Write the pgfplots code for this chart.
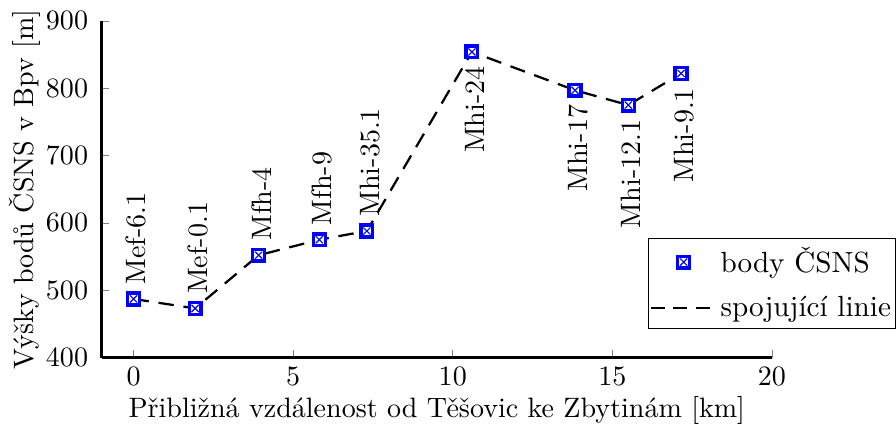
\documentclass[border=0pt]{standalone}
\usepackage{pgfplots}
\pgfplotsset{compat=1.18}
\pgfdeclareplotmark{sqx}{%
  \begin{pgfscope}%
  \pgfpathrectangle{\pgfpoint{-\pgfplotmarksize}{-\pgfplotmarksize}}{\pgfpoint{2\pgfplotmarksize}{2\pgfplotmarksize}}%
  \pgfusepathqfillstroke
  \pgfsetlinewidth{0.4pt}%
  \pgfpathmoveto{\pgfpoint{-0.6\pgfplotmarksize}{-0.6\pgfplotmarksize}}%
  \pgfpathlineto{\pgfpoint{0.6\pgfplotmarksize}{0.6\pgfplotmarksize}}%
  \pgfpathmoveto{\pgfpoint{-0.6\pgfplotmarksize}{0.6\pgfplotmarksize}}%
  \pgfpathlineto{\pgfpoint{0.6\pgfplotmarksize}{-0.6\pgfplotmarksize}}%
  \pgfusepathqstroke
  \end{pgfscope}%
}
\pgfplotsset{
  markleg/.style={legend image code/.code={\draw[##1] plot coordinates {(0.41cm,0cm)};}},
  lineleg/.style={legend image code/.code={\draw[##1] (0cm,0cm) -- (0.82cm,0cm);}},
}
\begin{document}
\begin{tikzpicture}
\begin{axis}[
  scale only axis,
  width=239pt, height=120pt,
  xmin=-1, xmax=20, ymin=400, ymax=900,
  axis lines*=left,
  axis line style={line width=0.9pt},
  tick align=inside,
  major tick length=0.09cm,
  xtick={0,5,10,15,20},
  ytick={400,500,600,700,800,900},
  yticklabel style={xshift=-1.3pt},
  xlabel={Přibližná vzdálenost od Těšovic ke Zbytinám [km]},
  ylabel={Výšky bodů ČSNS v Bpv [m]},
  xlabel style={yshift=3pt},
  ylabel style={yshift=-5pt},
  legend style={at={(1.185,0.355)}, anchor=north east, draw=black, fill=white,
    font=\fontsize{10.4pt}{12.5pt}\selectfont,
    row sep=2.7pt, inner xsep=0.5pt, inner ysep=1.1pt, cells={anchor=west},
    nodes={inner xsep=1.1pt}},
  clip=false,
]
\addplot[black, line width=0.8pt, dash pattern=on 5.5pt off 3.5pt, forget plot] coordinates {
(0,487) (1.93,473) (3.92,552) (5.82,575) (7.31,588) (10.6,854) (13.83,797) (15.5,775) (17.15,822)};
\addplot[only marks, mark=sqx, mark size=2.1pt, mark options={draw=blue, fill=white, line width=1.2pt}, markleg] coordinates {
(0,487) (1.93,473) (3.92,552) (5.82,575) (7.31,588) (10.6,854) (13.83,797) (15.5,775) (17.15,822)};
\addlegendentry{body ČSNS}
\addlegendimage{black, line width=0.8pt, dash pattern=on 5pt off 3pt, lineleg}
\addlegendentry{spojující linie}
\addplot[draw=none, no marks, forget plot, nodes near coords, point meta=explicit symbolic,
  every node near coord/.style={rotate=90, anchor=west, inner sep=0pt, xshift=5pt, yshift=-1pt, black}] table[meta=label] {
x y label
0 487 Mef-6.1
1.93 473 Mef-0.1
3.92 552 Mfh-4
5.82 575 Mfh-9
7.31 588 Mhi-35.1
};
\addplot[draw=none, no marks, forget plot, nodes near coords, point meta=explicit symbolic,
  every node near coord/.style={rotate=90, anchor=east, inner sep=0pt, xshift=-5pt, yshift=-1pt, black}] table[meta=label] {
x y label
10.6 854 Mhi-24
13.83 797 Mhi-17
15.5 775 Mhi-12.1
17.15 822 Mhi-9.1
};
\end{axis}
\end{tikzpicture}
\end{document}
